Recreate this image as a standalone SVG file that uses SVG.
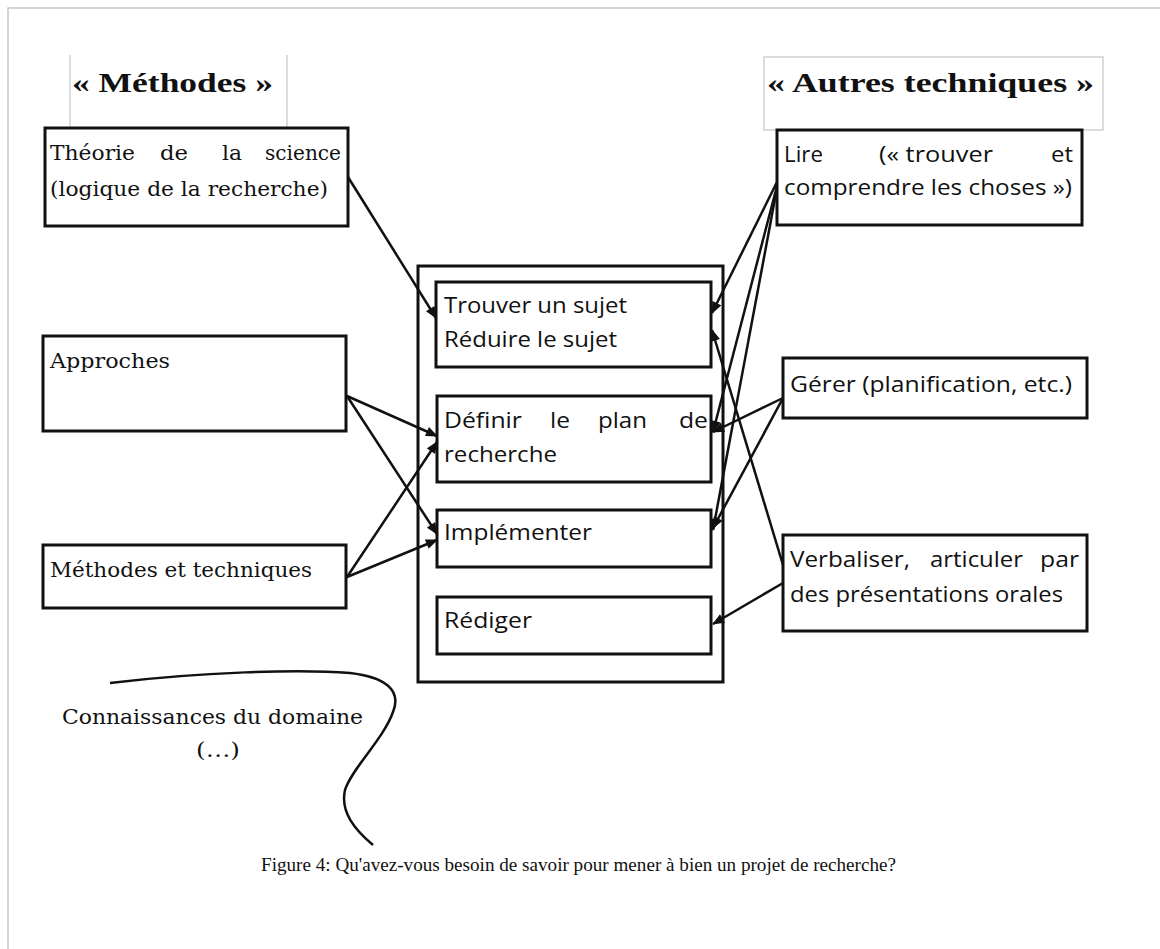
<svg xmlns="http://www.w3.org/2000/svg" width="1160" height="949" viewBox="0 0 1160 949">
<style>
.box{fill:#fff;stroke:#111;stroke-width:3}
.hdr{fill:none;stroke:#cfcfcf;stroke-width:1.5}
.serif{font-family:"DejaVu Serif","Liberation Serif",serif;font-size:20px;fill:#111}
.sans{font-family:"Open Sans","DejaVu Sans",sans-serif;font-size:21px;fill:#111}
.head{font-family:"Liberation Serif","Times New Roman",serif;font-size:28px;font-weight:bold;fill:#111}
.conn{stroke:#111;stroke-width:2.5;fill:none;marker-end:url(#ah)}
</style>
<defs>
<marker id="ah" viewBox="0 0 12 10" refX="11" refY="5" markerWidth="13" markerHeight="10" markerUnits="userSpaceOnUse" orient="auto">
<path d="M0,0 L12,5 L0,10 Z" fill="#111"/>
</marker>
</defs>
<rect width="1160" height="949" fill="#fff"/>
<path d="M8,949 L8,8 L1160,8" fill="none" stroke="#c8c8c8" stroke-width="1.5"/>

<g id="hdr-methodes">
<path class="hdr" d="M70,55 L70,128 M287,55 L287,128"/>
<text class="head" x="72" y="92" textLength="201" lengthAdjust="spacingAndGlyphs">« Méthodes »</text>
</g>
<g id="hdr-autres">
<rect class="hdr" x="764" y="57" width="339" height="73"/>
<text class="head" x="767" y="92" textLength="327" lengthAdjust="spacingAndGlyphs">« Autres techniques »</text>
</g>

<g id="n-theorie">
<rect class="box" x="45" y="128" width="303" height="98"/>
<text class="serif" x="50" y="160" textLength="85" lengthAdjust="spacingAndGlyphs">Théorie</text>
<text class="serif" x="160" y="160" textLength="28" lengthAdjust="spacingAndGlyphs">de</text>
<text class="serif" x="222" y="160" textLength="20" lengthAdjust="spacingAndGlyphs">la</text>
<text class="serif" x="265" y="160" textLength="76" lengthAdjust="spacingAndGlyphs">science</text>
<text class="serif" x="50" y="196" textLength="278" lengthAdjust="spacingAndGlyphs">(logique de la recherche)</text>
</g>
<g id="n-approches">
<rect class="box" x="43" y="336" width="303" height="95"/>
<text class="serif" x="50" y="368" textLength="120" lengthAdjust="spacingAndGlyphs">Approches</text>
</g>
<g id="n-methodes">
<rect class="box" x="43" y="545" width="303" height="63"/>
<text class="serif" x="50" y="577" textLength="262" lengthAdjust="spacingAndGlyphs">Méthodes et techniques</text>
</g>

<g id="n-container">
<rect class="box" x="418" y="266" width="305" height="416"/>
</g>
<g id="n-trouver">
<rect class="box" x="436" y="282" width="275" height="85"/>
<text class="sans" x="444" y="313" textLength="183" lengthAdjust="spacingAndGlyphs">Trouver un sujet</text>
<text class="sans" x="444" y="347" textLength="173" lengthAdjust="spacingAndGlyphs">Réduire le sujet</text>
</g>
<g id="n-definir">
<rect class="box" x="437" y="396" width="274" height="86"/>
<text class="sans" x="444" y="428" textLength="78" lengthAdjust="spacingAndGlyphs">Définir</text>
<text class="sans" x="550" y="428" textLength="20" lengthAdjust="spacingAndGlyphs">le</text>
<text class="sans" x="598" y="428" textLength="49" lengthAdjust="spacingAndGlyphs">plan</text>
<text class="sans" x="679" y="428" textLength="29" lengthAdjust="spacingAndGlyphs">de</text>
<text class="sans" x="444" y="462" textLength="113" lengthAdjust="spacingAndGlyphs">recherche</text>
</g>
<g id="n-implementer">
<rect class="box" x="437" y="510" width="274" height="57"/>
<text class="sans" x="444" y="540" textLength="148" lengthAdjust="spacingAndGlyphs">Implémenter</text>
</g>
<g id="n-rediger">
<rect class="box" x="437" y="597" width="274" height="57"/>
<text class="sans" x="444" y="628" textLength="88" lengthAdjust="spacingAndGlyphs">Rédiger</text>
</g>

<g id="n-lire">
<rect class="box" x="777" y="130" width="305" height="95"/>
<text class="sans" x="784" y="162" textLength="39" lengthAdjust="spacingAndGlyphs">Lire</text>
<text class="sans" x="879" y="162" textLength="114" lengthAdjust="spacingAndGlyphs">(« trouver</text>
<text class="sans" x="1051" y="162" textLength="22" lengthAdjust="spacingAndGlyphs">et</text>
<text class="sans" x="784" y="195" textLength="288" lengthAdjust="spacingAndGlyphs">comprendre les choses »)</text>
</g>
<g id="n-gerer">
<rect class="box" x="783" y="358" width="304" height="60"/>
<text class="sans" x="790" y="392" textLength="282" lengthAdjust="spacingAndGlyphs">Gérer (planification, etc.)</text>
</g>
<g id="n-verbaliser">
<rect class="box" x="783" y="535" width="304" height="96"/>
<text class="sans" x="790" y="567" textLength="120" lengthAdjust="spacingAndGlyphs">Verbaliser,</text>
<text class="sans" x="930" y="567" textLength="93" lengthAdjust="spacingAndGlyphs">articuler</text>
<text class="sans" x="1040" y="567" textLength="39" lengthAdjust="spacingAndGlyphs">par</text>
<text class="sans" x="790" y="602" textLength="273" lengthAdjust="spacingAndGlyphs">des présentations orales</text>
</g>

<g id="n-connaissances">
<path d="M110,683 C200,672 300,669 350,673 C385,677 402,690 393,712 C383,740 352,768 345,790 C340,812 355,830 373,845" fill="none" stroke="#111" stroke-width="2.5"/>
<text class="serif" fill="#222" x="62" y="724" textLength="301" lengthAdjust="spacingAndGlyphs">Connaissances du domaine</text>
<text class="serif" fill="#222" x="196" y="757" textLength="44" lengthAdjust="spacingAndGlyphs">(…)</text>
</g>

<g id="connectors">
<path class="conn" d="M348,177 L436,318"/>
<path class="conn" d="M347,396 L437,436"/>
<path class="conn" d="M347,396 L437,534"/>
<path class="conn" d="M347,577 L437,442"/>
<path class="conn" d="M347,577 L437,540"/>
<path class="conn" d="M777,182 L712,313"/>
<path class="conn" d="M777,186 L713,432"/>
<path class="conn" d="M777,188 L713,530"/>
<path class="conn" d="M783,565 L712,330"/>
<path class="conn" d="M783,398 L713,432"/>
<path class="conn" d="M783,398 L713,528"/>
<path class="conn" d="M783,583 L713,624"/>
</g>

<text id="caption" font-family="Liberation Serif, Times New Roman, serif" font-size="19" fill="#111" x="261" y="871" textLength="635" lengthAdjust="spacingAndGlyphs">Figure 4: Qu'avez-vous besoin de savoir pour mener à bien un projet de recherche?</text>
</svg>
